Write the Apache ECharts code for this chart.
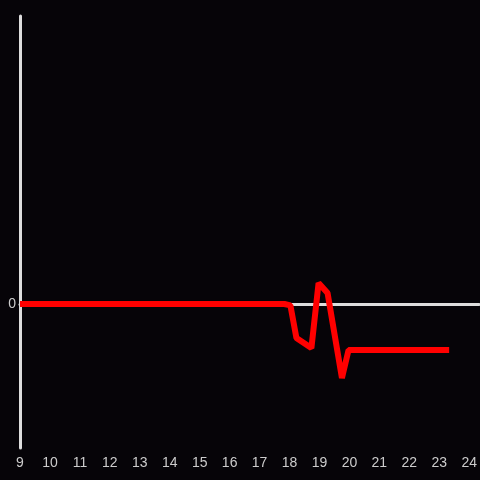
<!DOCTYPE html>
<html>
<head>
<meta charset="utf-8">
<script src="https://cdn.jsdelivr.net/npm/echarts@6/dist/echarts.min.js"></script>
<style>
  html, body { margin: 0; padding: 0; background: #060408; }
  #main { width: 480px; height: 480px; }
</style>
</head>
<body>
<div id="main"></div>
<script>
// x positions (hours) and values
var xs = [9, 17.83, 18.03, 18.23, 18.73, 18.97, 19.27, 19.75, 19.97, 23.33]
var ys = [0, 0, -0.01, -0.236, -0.306, 0.146, 0.076, -0.514, -0.32, -0.32]

var points = xs.map(function (x, i) { return [x, ys[i]] })

var chart = echarts.init(document.getElementById('main'))
chart.setOption({
  backgroundColor: '#060408',
  animation: false,
  grid: { left: 20, right: 0, top: 16, bottom: 32 },
  xAxis: {
    type: 'value',
    min: 9,
    max: 24 + 1 / 3,
    interval: 1,
    axisLine: { lineStyle: { color: '#dddddd', width: 3 } },
    axisTick: { show: false },
    splitLine: { show: false },
    axisLabel: {
      color: '#cccccc',
      fontSize: 14,
      showMaxLabel: false,
      formatter: function (v) { return Number.isInteger(v) ? String(v) : '' }
    }
  },
  yAxis: {
    type: 'value',
    min: -1,
    max: 2,
    interval: 1,
    axisLine: { show: true, lineStyle: { color: '#dddddd', width: 3 } },
    axisTick: { show: false },
    splitLine: { show: false },
    axisLabel: {
      color: '#cccccc',
      fontSize: 14,
      margin: 4,
      formatter: function (v) { return v === 0 ? '0' : '' }
    }
  },
  series: [{
    type: 'line',
    data: points,
    showSymbol: false,
    lineStyle: { color: '#ff0000', width: 6 }
  }]
})
</script>
</body>
</html>
